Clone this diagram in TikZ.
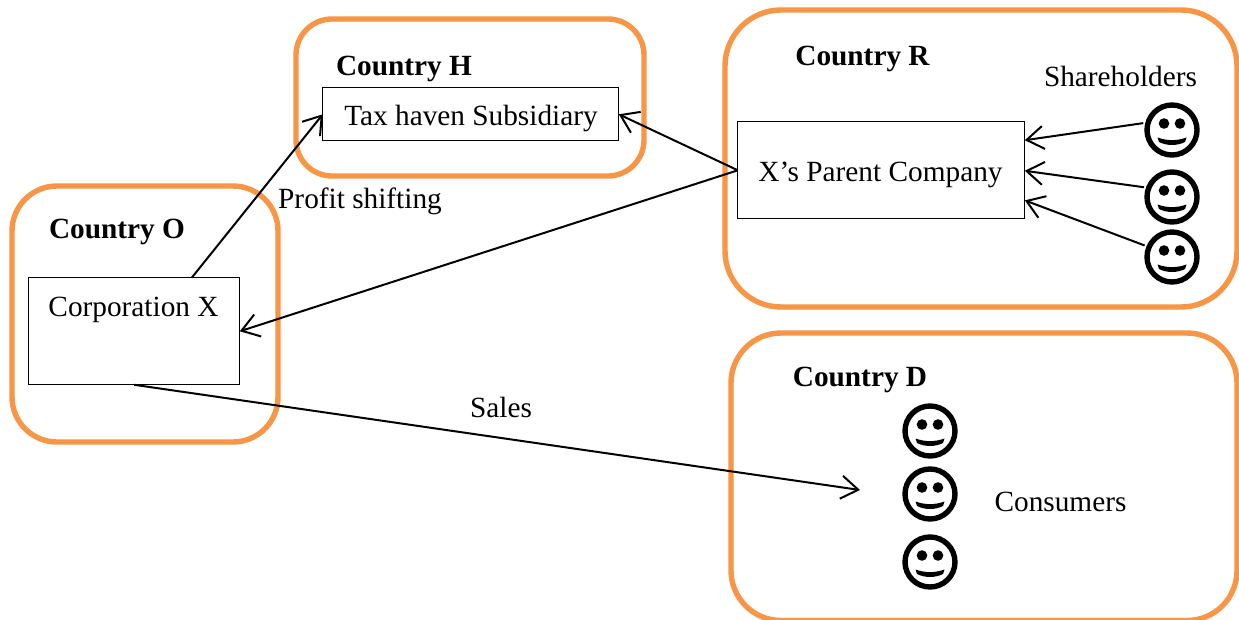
\documentclass[tikz,border=0pt]{standalone}
\usepackage{fontspec}
\setmainfont{Liberation Serif}
\usetikzlibrary{arrows.meta,calc}
\definecolor{frameorange}{RGB}{247,150,70}
\tikzset{
  x=1pt,y=-1pt,
  country/.style={draw=frameorange,line width=5.4pt,rounded corners=#1},
  box/.style={draw=black,line width=0.8pt,fill=white,inner sep=0pt,outer sep=0pt,minimum width=#1},
  txt/.style={font=\fontsize{29.3}{32}\selectfont,inner sep=0pt,outer sep=0pt},
  head/.style={font=\fontsize{29.3}{32}\selectfont\bfseries,inner sep=0pt,outer sep=0pt},
  conn/.style={draw=black,line width=2pt,-{Straight Barb[length=17pt,width=23pt,line width=2pt]}},
  face/.style={circle,draw=black,line width=5.4pt,minimum size=50pt,inner sep=0pt,outer sep=2.7pt},
}
\newcommand{\smileyface}[2]{%
  \node[face] (#1) at (#2) {};
  \fill ([shift={(-8,-6.5)}]#1.center) circle (5.3);
  \fill ([shift={(8,-6.5)}]#1.center) circle (5.3);
  \fill ([shift={(-14.5,7.5)}]#1.center) .. controls ([shift={(-5,11)}]#1.center) and ([shift={(5,11)}]#1.center) .. ([shift={(14.5,7.5)}]#1.center)
     -- ([shift={(13,12)}]#1.center) .. controls ([shift={(5,16)}]#1.center) and ([shift={(-5,16)}]#1.center) .. ([shift={(-13,12)}]#1.center) -- cycle;
}
\begin{document}
\begin{tikzpicture}
\clip (0,0) rectangle (1239,620);
\fill[white] (0,0) rectangle (1239,620);
% country frames
\path[country=45pt] (12,186) rectangle (278,442);
\path[country=36pt] (296,19) rectangle (644,176);
\path[country=56pt] (725,10) rectangle (1237,307);
\path[country=50pt] (731,333) rectangle (1237,620.5);
% boxes
\node[box=211pt,minimum height=107pt] (corp) at (134.3,331.3) {};
\node[box=296pt,minimum height=53pt] (tax) at (470.8,114.3) {};
\node[box=287pt,minimum height=97pt] (par) at (881.3,170.3) {};
\node[txt] (corpt) at (133.5,309.5) {Corporation X};
\node[txt] (taxt) at (471,118.5) {Tax haven Subsidiary};
\node[txt] (part) at (880.5,175) {X’s Parent Company};
% headings
\node[head] (hO) at (117,231.5) {Country O};
\node[head] (hH) at (404,68.5) {Country H};
\node[head] (hR) at (862.5,59) {Country R};
\node[head] (hD) at (860,379.5) {Country D};
% labels
\node[txt] (lP) at (360,201.5) {Profit shifting};
\node[txt] (lSa) at (501,407.5) {Sales};
\node[txt] (lSh) at (1120.5,76) {Shareholders};
\node[txt] (lC) at (1060.5,501.5) {Consumers};
% faces
\smileyface{s1}{1172,130}
\smileyface{s2}{1172,197}
\smileyface{s3}{1172,257}
\smileyface{c1}{930,431}
\smileyface{c2}{930,494}
\smileyface{c3}{930,562}
% connectors
\coordinate (salesend) at (860,490);
\draw[conn] ($(corp.north west)!0.772!(corp.north east)$) -- (tax.west);
\draw[conn] (par.west) -- (tax.east);
\draw[conn] (par.west) -- (corp.east);
\draw[conn] (corp.south) -- (salesend);
\draw[conn,shorten <=2pt] (s1.165) -- ($(par.north east)!0.19!(par.south east)$);
\draw[conn,shorten <=2pt] (s2.160) -- ($(par.north east)!0.505!(par.south east)$);
\draw[conn,shorten <=2pt] (s3.157) -- ($(par.north east)!0.81!(par.south east)$);
\end{tikzpicture}
\end{document}
